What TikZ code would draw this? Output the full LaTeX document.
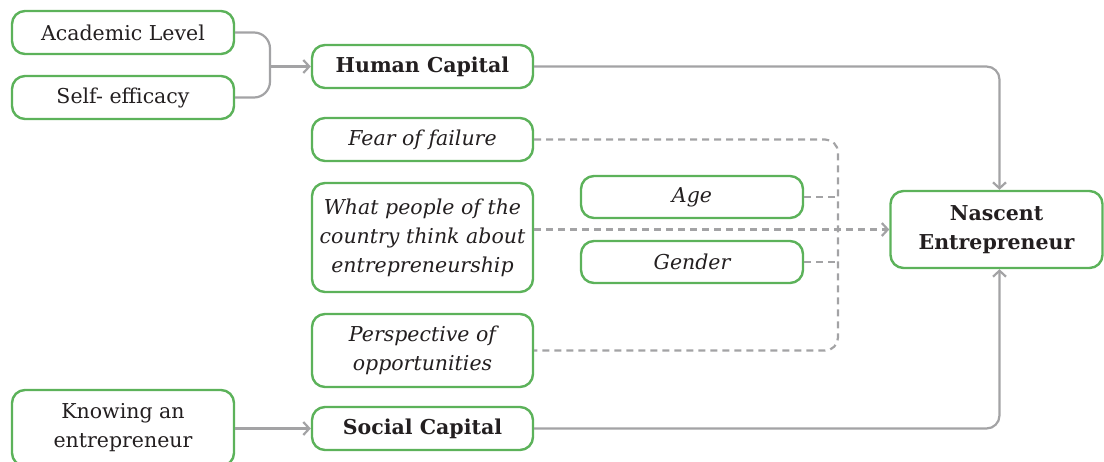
\documentclass[tikz,border=0pt]{standalone}
\usepackage{fontspec}
\setmainfont{DejaVu Serif}
\usetikzlibrary{arrows.meta}
\definecolor{boxgreen}{HTML}{5CB25A}
\definecolor{conngray}{HTML}{A3A3A5}
\definecolor{txt}{HTML}{231F20}
\begin{document}
\begin{tikzpicture}[x=1pt,y=-1pt,
  box/.style={draw=boxgreen, line width=2.4pt, rounded corners=13pt, fill=white,
    align=center, inner sep=0pt, text=txt, font=\fontsize{20.5}{29}\selectfont},
  wbox/.style={box, minimum width=221pt},
  conn/.style={draw=conngray, line width=2.2pt, rounded corners=13pt},
  dconn/.style={conn, dash pattern=on 7pt off 5pt},
  tip/.style={-{Straight Barb[length=6pt,width=13pt,line width=2.2pt]}}]
\useasboundingbox (0,0) rectangle (1104,461);
% left column
\node[wbox, minimum width=222pt, minimum height=43pt] (al) at (123,32.5) {Academic Level};
\node[wbox, minimum width=222pt, minimum height=43pt] (se) at (123,97.5) {Self- efficacy};
\node[wbox, minimum width=222pt, minimum height=76pt] (kn) at (123,428) {Knowing an\\entrepreneur};
% middle column
\node[wbox, minimum height=43pt] (hc) at (422.5,66.5) {\bfseries Human Capital};
\node[wbox, minimum height=43pt] (ff) at (422.5,139.5) {\itshape Fear of failure};
\node[wbox, minimum height=109pt] (wp) at (422.5,237.5) {\itshape What people of the\\\itshape country think about\\\itshape entrepreneurship};
\node[wbox, minimum height=73pt] (pp) at (422.5,350.5) {\itshape Perspective of\\\itshape opportunities};
\node[wbox, minimum height=43pt] (sc) at (422.5,428.5) {\bfseries Social Capital};
% right part
\node[wbox, minimum width=222pt, minimum height=42pt] (age) at (692,197) {\itshape Age};
\node[wbox, minimum width=222pt, minimum height=42pt] (gen) at (692,262) {\itshape Gender};
\node[box, minimum width=212pt, minimum height=77pt] (ne) at (996.5,229.5) {\bfseries Nascent\\\bfseries Entrepreneur};
% bracket
\coordinate (bx) at (270,66.5);
\draw[conn, rounded corners=16pt] (al.east) -- (al.east -| bx) -- (se.east -| bx) -- (se.east);
\draw[conn, tip] (bx) -- (hc.west);
\draw[conn, tip] (kn.east |- sc.west) -- (sc.west);
\draw[conn, tip] (hc.east) -| ([xshift=3pt]ne.north);
\draw[conn, tip] (sc.east) -| ([xshift=3pt]ne.south);
% dashed
\coordinate (dv) at (838,0);
\draw[dconn] (ff.east) -- (ff.east -| dv) -- (pp.east -| dv) -- (pp.east);
\draw[dconn] (age.east) -- (age.east -| dv);
\draw[dconn] (gen.east) -- (gen.east -| dv);
\draw[dconn, tip] (wp.east |- ne.west) -- (ne.west);
\end{tikzpicture}
\end{document}
